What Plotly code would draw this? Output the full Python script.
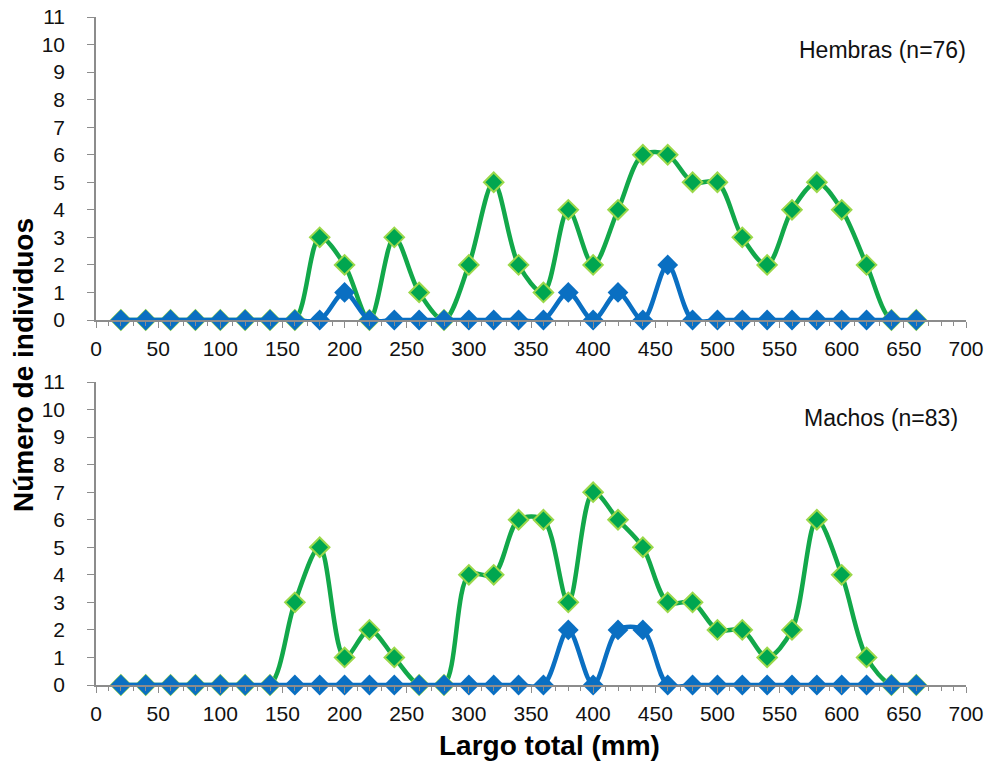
import plotly.graph_objects as go

largo = [20, 40, 60, 80, 100, 120, 140, 160, 180, 200, 220, 240, 260, 280, 300, 320, 340,
         360, 380, 400, 420, 440, 460, 480, 500, 520, 540, 560, 580, 600, 620, 640, 660]

hembras_verde = [0, 0, 0, 0, 0, 0, 0, 0, 3, 2, 0, 3, 1, 0, 2, 5, 2,
                 1, 4, 2, 4, 6, 6, 5, 5, 3, 2, 4, 5, 4, 2, 0, 0]
hembras_azul = [0, 0, 0, 0, 0, 0, 0, 0, 0, 1, 0, 0, 0, 0, 0, 0, 0,
                0, 1, 0, 1, 0, 2, 0, 0, 0, 0, 0, 0, 0, 0, 0, 0]

machos_verde = [0, 0, 0, 0, 0, 0, 0, 3, 5, 1, 2, 1, 0, 0, 4, 4, 6,
                6, 3, 7, 6, 5, 3, 3, 2, 2, 1, 2, 6, 4, 1, 0, 0]
machos_azul = [0, 0, 0, 0, 0, 0, 0, 0, 0, 0, 0, 0, 0, 0, 0, 0, 0,
               0, 2, 0, 2, 2, 0, 0, 0, 0, 0, 0, 0, 0, 0, 0, 0]

panel_labels = ["Hembras (n=76)", "Machos (n=83)"]
x_ticks = list(range(0, 701, 50))
y_ticks = list(range(0, 12))

W, H = 998, 767
GREEN = "#12a84a"
GREEN_FILL = "#00a650"
GREEN_EDGE = "#9bd84a"
BLUE = "#0a6fc2"
AXIS = "#8c8c8c"
FONT = "Liberation Sans, Arial, sans-serif"

fig = go.Figure()

panels = [
    (hembras_verde, hembras_azul, "x", "y"),
    (machos_verde, machos_azul, "x2", "y2"),
]
for verde, azul, xa, ya in panels:
    fig.add_trace(go.Scatter(
        x=largo, y=verde, xaxis=xa, yaxis=ya, mode="lines+markers",
        line=dict(color=GREEN, width=4.5, shape="spline", smoothing=0.9),
        marker=dict(symbol="diamond", size=15, color=GREEN_FILL,
                    line=dict(color=GREEN_EDGE, width=2)),
        cliponaxis=False, showlegend=False, hoverinfo="x+y"))
    fig.add_trace(go.Scatter(
        x=largo, y=azul, xaxis=xa, yaxis=ya, mode="lines+markers",
        line=dict(color=BLUE, width=4.5, shape="spline", smoothing=0.9),
        marker=dict(symbol="diamond", size=16, color=BLUE,
                    line=dict(color=BLUE, width=0)),
        cliponaxis=False, showlegend=False, hoverinfo="x+y"))

xdom = [96 / W, 966 / W]
top_dom = [1 - 320 / H, 1 - 17 / H]
bot_dom = [1 - 685 / H, 1 - 382 / H]

def xaxis_cfg(anchor):
    return dict(domain=xdom, anchor=anchor, range=[0, 700], tickvals=x_ticks,
                automargin=False,
                showgrid=False, zeroline=False, showline=True, linecolor=AXIS,
                linewidth=1.5, ticks="outside", ticklen=6, tickcolor=AXIS,
                ticklabelstandoff=3,
                minor=dict(dtick=10, ticks="outside", ticklen=4, tickcolor=AXIS,
                           showgrid=False),
                tickfont=dict(family=FONT, size=21, color="#111"))

def yaxis_cfg(anchor, dom):
    return dict(domain=dom, anchor=anchor, range=[0, 11], tickvals=y_ticks,
                automargin=False,
                showgrid=False, zeroline=False, showline=True, linecolor=AXIS,
                linewidth=1.5, ticks="outside", ticklen=7, tickcolor=AXIS,
                ticklabelstandoff=18,
                tickfont=dict(family=FONT, size=21, color="#111"))

fig.update_layout(
    width=W, height=H, autosize=False,
    margin=dict(l=0, r=0, t=0, b=0),
    paper_bgcolor="white", plot_bgcolor="white",
    xaxis=xaxis_cfg("y"), yaxis=yaxis_cfg("x", top_dom),
    xaxis2=xaxis_cfg("y2"), yaxis2=yaxis_cfg("x2", bot_dom),
    annotations=[
        dict(text=panel_labels[0], x=882 / W, y=1 - 50 / H, xref="paper", yref="paper",
             showarrow=False, font=dict(family=FONT, size=23, color="#111"),
             xanchor="center", yanchor="middle"),
        dict(text=panel_labels[1], x=881 / W, y=1 - 418 / H, xref="paper", yref="paper",
             showarrow=False, font=dict(family=FONT, size=23, color="#111"),
             xanchor="center", yanchor="middle"),
        dict(text="<b>Largo total (mm)</b>", x=549 / W, y=1 - 745 / H,
             xref="paper", yref="paper", showarrow=False,
             font=dict(family=FONT, size=28, color="#000"),
             xanchor="center", yanchor="middle"),
        dict(text="<b>Número de individuos</b>", x=24 / W, y=1 - 365 / H,
             xref="paper", yref="paper", showarrow=False, textangle=-90,
             font=dict(family=FONT, size=28, color="#000"),
             xanchor="center", yanchor="middle"),
    ],
)

fig.write_html("out.html")
